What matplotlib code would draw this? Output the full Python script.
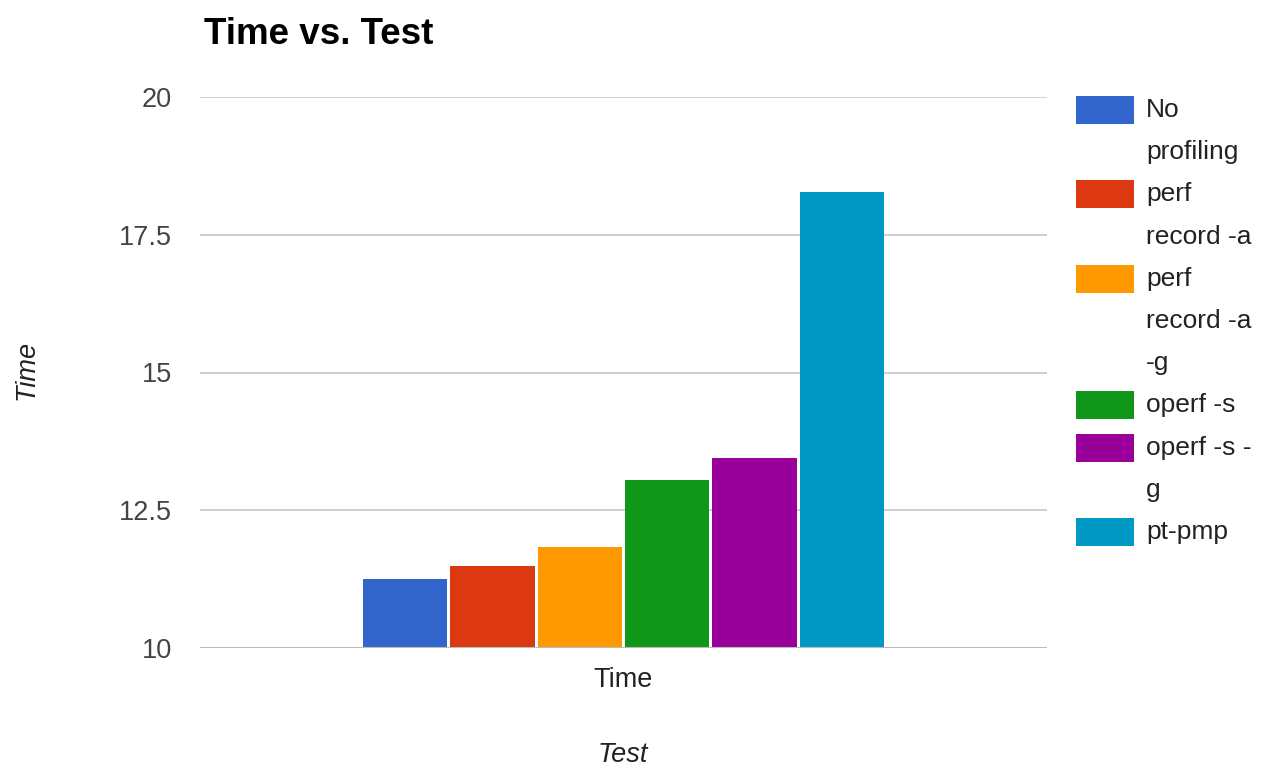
import matplotlib.pyplot as plt
from matplotlib.patches import Rectangle

plt.rcParams['font.family'] = ['Liberation Sans', 'DejaVu Sans']

# one category, six profilers
category = "Time"
series = ["No\nprofiling", "perf\nrecord -a", "perf\nrecord -a\n-g",
          "operf -s", "operf -s -\ng", "pt-pmp"]
times = [11.25, 11.48, 11.83, 13.05, 13.44, 18.27]
colors = ["#3366cc", "#dc3912", "#ff9900", "#109618", "#990099", "#0099c6"]
yticks = [10, 12.5, 15, 17.5, 20]

W, H = 1268, 768
fig = plt.figure(figsize=(W / 100, H / 100), dpi=100)
ax = fig.add_axes([200 / W, 1 - 648 / H, 847 / W, (648 - 97) / H])

for i, (t, c) in enumerate(zip(times, colors)):
    ax.bar(i, t - 10, bottom=10, width=0.965, color=c, zorder=3)

ax.set_ylim(10, 20)
ax.set_xlim(2.5 - 4.845, 2.5 + 4.845)
ax.set_yticks(yticks)
ax.set_yticklabels(["10", "12.5", "15", "17.5", "20"])
ax.set_xticks([2.5])
ax.set_xticklabels([category])
ax.tick_params(axis='y', length=0, pad=20, labelsize=19.5, labelcolor="#444444")
ax.tick_params(axis='x', length=0, pad=14, labelsize=19.5, labelcolor="#222222")
ax.grid(axis='y', color="#cccccc", linewidth=1.3, zorder=0)
for s in ax.spines.values():
    s.set_visible(False)
ax.axhline(10, color="#bbbbbb", linewidth=1.5, zorder=4)

fig.text(204 / W, 1 - 35 / H, "Time vs. Test", fontsize=26.5, fontweight='bold',
         ha='left', va='center', color="black")
fig.text(27 / W, 1 - 370 / H, "Time", fontsize=19.5, style='italic', rotation=90,
         ha='center', va='center', color="#222222")
fig.text(623 / W, 1 - 755 / H, "Test", fontsize=19.5, style='italic',
         ha='center', va='center', color="#222222")

# legend drawn by hand so wrapped labels line up like the original
y = 110
step = 42.2
for lab, c in zip(series, colors):
    fig.patches.append(Rectangle((1076 / W, 1 - (y + 14) / H), 58 / W, 28 / H,
                                 transform=fig.transFigure, facecolor=c,
                                 edgecolor='none'))
    for k, line in enumerate(lab.split("\n")):
        fig.text(1146 / W, 1 - (y + k * step) / H, line, fontsize=19,
                 ha='left', va='center', color="#222222")
    y += step * len(lab.split("\n"))

fig.savefig("out.png", dpi=100, facecolor="white")
